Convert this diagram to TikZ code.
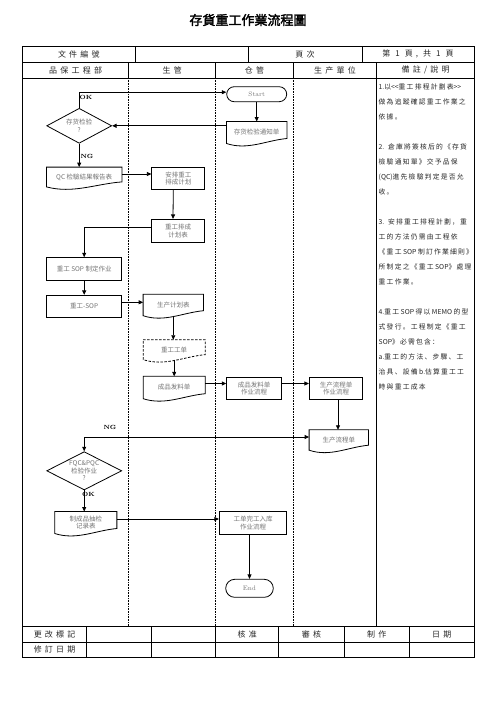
\documentclass[tikz,border=0pt]{standalone}
\usepackage{fontspec}
\newfontfamily\cjk{Noto Sans CJK SC}
\newfontfamily\cjksp[LetterSpace=40]{Noto Sans CJK SC}
\newfontfamily\cjknote[LetterSpace=18]{Noto Sans CJK SC}
\newfontfamily\cjkb[FakeBold=2.5]{Noto Sans CJK SC}
\newcommand\lat[1]{{\cjk #1}}
\usetikzlibrary{shapes.geometric,arrows.meta,calc}
\newcommand\docshape[2][]{\draw[line width=0.8pt,#1] (#2.north west) -- (#2.north east) -- ($(#2.south east)+(0,-5)$) .. controls ($(#2.south west)!0.65!(#2.south east)+(0,-3)$) and ($(#2.south west)!0.35!(#2.south east)+(0,7)$) .. (#2.south west) -- cycle;}
\tikzset{
  arr/.style={-{Triangle[length=4.5pt,width=4pt]},line width=0.8pt},
  arrboth/.style={{Triangle[length=4.5pt,width=4pt]}-{Triangle[length=4.5pt,width=4pt]},line width=0.8pt},
  nodetext/.style={inner sep=0pt,align=center,font=\cjk\fontsize{6.5}{7.5}\selectfont,text=black!55},
  box/.style={nodetext,draw,line width=0.8pt},
  docn/.style={nodetext},
  term/.style={draw,line width=0.8pt,inner sep=0pt,font=\fontsize{6.5}{7}\selectfont,text=black!55},
  dec/.style={nodetext,draw,diamond,shape aspect=2,line width=0.8pt},
  lab/.style={inner sep=0pt,font=\bfseries\fontsize{6}{6}\selectfont},
  hdr/.style={inner sep=0pt,font=\cjksp\fontsize{8}{9}\selectfont,text=black!85},
  grid/.style={line width=0.8pt},
  lane/.style={densely dotted,line width=0.6pt},
}
\begin{document}
\begin{tikzpicture}[x=1pt,y=-1pt]
\useasboundingbox (0,0) rectangle (496,702);
% title
\node[font=\cjkb\fontsize{13}{15}\selectfont] (title) at (248,20) {存貨重工作業流程圖};
% table
\draw[grid] (22.5,46) rectangle (474.5,657);
\draw[grid] (22.5,62) -- (474.5,62);
\draw[grid] (22.5,78) -- (474.5,78);
\draw[grid] (22.5,626.5) -- (474.5,626.5);
\draw[grid] (22.5,642) -- (474.5,642);
\foreach \x in {135,248,362} \draw[grid] (\x,46) -- (\x,62);
\foreach \x in {128.7,215.7,293.3,376.7} \draw[grid] (\x,62) -- (\x,78);
\foreach \x in {128.7,215.7,293.3} \draw[lane] (\x,78) -- (\x,626.5);
\draw[grid] (376.7,78) -- (376.7,626.5);
\foreach \x in {86.7,151.7,215.7,278.7,344.3,409.3} \draw[grid] (\x,626.5) -- (\x,657);
% header texts
\node[hdr] (h1) at (78.8,54) {文件編號};
\node[hdr] (h2) at (305,54) {頁次};
\node[hdr] (h3) at (418,54) {第 1 頁, 共 1 頁};
\node[hdr] (c1) at (75.6,70) {品保工程部};
\node[hdr] (c2) at (172.2,70) {生管};
\node[hdr] (c3) at (254.5,70) {仓管};
\node[hdr] (c4) at (335,70) {生产單位};
\node[hdr] (c5) at (425.6,70) {備註/說明};
% footer texts
\node[hdr] (f1) at (54.6,634.3) {更改標記};
\node[hdr] (f2) at (54.6,649.5) {修訂日期};
\node[hdr] (f3) at (247.2,634.3) {核准};
\node[hdr] (f4) at (311.5,634.3) {審核};
\node[hdr] (f5) at (376.8,634.3) {制作};
\node[hdr] (f6) at (441.7,634.3) {日期};
% notes
\node[anchor=north west,inner sep=0pt,align=left,font=\cjknote\fontsize{6.8}{15}\selectfont,text=black!85] (notes) at (378.5,83.5) {%
\lat{1.}以\lat{<\kern0pt<}重工排程計劃表\lat{>\kern0pt>}\\
做為追蹤確認重工作業之\\
依據。\\[15pt]
\lat{2.} 倉庫將簽核后的《存貨\\
檢驗通知單》交予品保\\
\lat{(QC)}進先檢驗判定是否允\\
收。\\[15pt]
\lat{3.} 安排重工排程計劃，重\\
工的方法仍需由工程依\\
《重工\lat{ SOP }制訂作業細則》\\
所制定之《重工\lat{ SOP}》處理\\
重工作業。\\[15pt]
\lat{4.}重工\lat{ SOP }得以\lat{ MEMO }的型\\
式發行。工程制定《重工\\
\lat{SOP}》必需包含：\\
\lat{a.}重工的方法、步驟、工\\
治具、設備\lat{ b.}估算重工工\\
時與重工成本};
% flow nodes
\node[term,rounded corners=7.5pt,minimum width=60pt,minimum height=15pt] (start) at (256.7,94.2) {Start};
\node[docn,minimum width=60pt,minimum height=21.6pt] (notice) at (256.7,132.5) {存货检验通知单};
\docshape{notice}
\node[dec,minimum width=65pt,minimum height=35pt] (d1) at (79.2,125.8) {存货检验\\?};
\node[docn,minimum width=75pt,minimum height=19.4pt] (qc) at (84.2,177) {QC 检驗結果報告表};
\docshape{qc}
\node[box,minimum width=53pt,minimum height=22pt] (an) at (178.3,178.3) {安排重工\\排成计划};
\node[box,minimum width=52.6pt,minimum height=23.4pt] (pt) at (178,231) {重工排成\\计划表};
\node[box,minimum width=75pt,minimum height=22.3pt] (sopm) at (84.2,268.8) {重工 SOP 制定作业};
\node[box,minimum width=75pt,minimum height=22pt] (sop) at (84.2,306.3) {重工-SOP};
\node[docn,minimum width=60pt,minimum height=21pt] (ppl) at (173.3,305) {生产计划表};
\docshape{ppl}
\node[docn,minimum width=61.7pt,minimum height=19.5pt] (wo) at (174.2,349.7) {重工工单};
\docshape[dash pattern=on 2.5pt off 1.5pt]{wo}
\node[docn,minimum width=61.7pt,minimum height=22pt] (fl) at (174.2,387.5) {成品发料单};
\docshape{fl}
\node[box,minimum width=55pt,minimum height=22pt] (fp) at (254.2,388.3) {成品发料单\\作业流程};
\node[box,minimum width=53.4pt,minimum height=22pt] (sp) at (336,388.3) {生产流程单\\作业流程};
\node[docn,minimum width=59pt,minimum height=20pt] (spd) at (338.8,440) {生产流程单};
\docshape{spd}
\node[dec,minimum width=75pt,minimum height=38.3pt] (d2) at (84.2,470.8) {FQC\&PQC\\检验作业\\?};
\node[docn,minimum width=61.7pt,minimum height=21.6pt] (cp) at (85.8,522.5) {制成品抽检\\记录表};
\docshape{cp}
\node[box,minimum width=67.4pt,minimum height=23pt] (wh) at (253,523.2) {工单完工入库\\作业流程};
\node[term,rounded corners=9pt,minimum width=47.6pt,minimum height=18pt] (end) at (249.5,588.3) {End};
% labels
\node[lab] (ok1) at (86,97.5) {OK};
\node[lab] (ng1) at (87,156.5) {NG};
\node[lab] (ng2) at (110,427.3) {NG};
\node[lab] (ok2) at (88.5,494.5) {OK};
% connectors
\draw[arr] (d1.north) |- ([yshift=2pt]start.west);
\draw[arr] (start) -- (notice);
\draw[arr] (notice.west |- d1.east) -- (d1.east);
\draw[arr] (d1.south) -- (d1.south |- qc.north);
\draw[arr] ([yshift=3pt]qc.east) -- ([yshift=3pt]qc.east -| an.west);
\draw[arr] ([xshift=-5pt]an.south) -- ([xshift=-5pt]pt.north);
\draw[arr] ([yshift=4pt]pt.west) -| (sopm.north);
\draw[arr] (sopm) -- (sop);
\draw[arr] ([yshift=4pt]sop.east) -- ([yshift=4pt]sop.east -| ppl.west);
\draw[arr] (ppl.south) -- (ppl.south |- wo.north);
\draw[arr] (wo) -- (fl);
\coordinate (ry) at ([yshift=4pt]fl.east);
\draw[arr] (ry) -- (ry -| fp.west);
\draw[arr] (ry -| fp.east) -- (ry -| sp.west);
\draw[arr] ([xshift=2pt]sp.south) -- ([xshift=2pt]sp.south |- spd.north);
\draw[arrboth] (d2.north) |- ([yshift=3pt]spd.west);
\draw[arr] (d2.south) -- (d2.south |- cp.north);
\draw[arr] ([yshift=3.5pt]cp.east) -- ([yshift=3.5pt]cp.east -| wh.west);
\draw[arr] (end.north |- wh.south) -- (end.north);
\end{tikzpicture}
\end{document}
